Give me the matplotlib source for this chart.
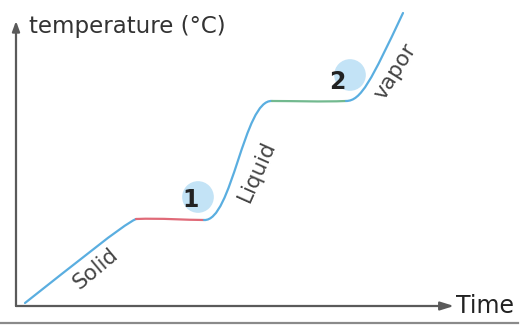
import matplotlib
matplotlib.use("Agg")
import matplotlib.pyplot as plt
from matplotlib.path import Path
from matplotlib.patches import PathPatch
from matplotlib.lines import Line2D

# heating curve: each phase is one cubic Bezier (start, ctrl1, ctrl2, end) in (time, temperature)
solid_pts = [(9, 3), (60, 43), (105, 80), (120, 87)]
melting_pts = [(120, 87), (145, 88), (170, 86), (188, 86)]
liquid_pts = [(188, 86), (216, 84), (228, 207), (256, 205)]
boiling_pts = [(256, 205), (280, 205), (305, 204), (330, 205)]
vapor_pts = [(330, 205), (345, 205), (355, 225), (387, 293)]

segments = [solid_pts, melting_pts, liquid_pts, boiling_pts, vapor_pts]
segment_colors = ["#5aaee0", "#e06a78", "#5aaee0", "#72b98f", "#5aaee0"]

# phase labels: text, position, rotation
phase_labels = ["Solid", "Liquid", "vapor"]
phase_label_xy = [(80, 37), (241, 135), (379, 234)]
phase_label_rot = [40, 66, 58]

# numbered markers for the two phase changes
marker_labels = ["1", "2"]
marker_xy = [(182, 109), (334, 231)]
marker_text_xy = [(175, 106), (321, 224)]

fig = plt.figure(figsize=(5.26, 3.29), dpi=100)
W, H = 526, 329
ox, oy = 16, 306
ax = fig.add_axes([ox / W, (H - oy) / H, 438 / W, 285 / H])
ax.set_xlim(0, 438)
ax.set_ylim(0, 285)
ax.axis("off")

axis_color = "#5a5a5a"
# y axis with arrow
ax.annotate("", xy=(0, 1.0), xytext=(0, 0), xycoords="axes fraction",
            arrowprops=dict(arrowstyle="-|>,head_length=0.6,head_width=0.22",
                            color=axis_color, lw=1.6, shrinkA=0, shrinkB=0))
# x axis with arrow
ax.annotate("", xy=(1.0, 0), xytext=(0, 0), xycoords="axes fraction",
            arrowprops=dict(arrowstyle="-|>,head_length=0.8,head_width=0.25",
                            color=axis_color, lw=1.6, shrinkA=0, shrinkB=0))

ax.text(13, 273, "temperature (°C)", fontsize=16.5, color="#333333",
        va="baseline", ha="left")
ax.text(440, 0, "Time", fontsize=17, color="#222222", va="center", ha="left")

# markers behind the curve
for (mx, my) in marker_xy:
    ax.scatter([mx], [my], s=520, color="#c3e3f6", edgecolors="none", zorder=1)
for lab, (tx, ty) in zip(marker_labels, marker_text_xy):
    ax.text(tx, ty, lab, fontsize=17, fontweight="bold", color="#222222",
            ha="center", va="center", zorder=4)

codes = [Path.MOVETO, Path.CURVE4, Path.CURVE4, Path.CURVE4]
for pts, col in zip(segments, segment_colors):
    ax.add_patch(PathPatch(Path(pts, codes), facecolor="none", edgecolor=col,
                           lw=1.6, capstyle="round", zorder=3, clip_on=False))

for lab, (lx, ly), rot in zip(phase_labels, phase_label_xy, phase_label_rot):
    ax.text(lx, ly, lab, fontsize=15.5, color="#444444", rotation=rot,
            rotation_mode="anchor", ha="center", va="center")

# rule under the chart
fig.add_artist(Line2D([0, 518 / W], [(H - 323) / H] * 2, color="#8a8a8a", lw=1.6))

fig.savefig("out.png", dpi=100)
